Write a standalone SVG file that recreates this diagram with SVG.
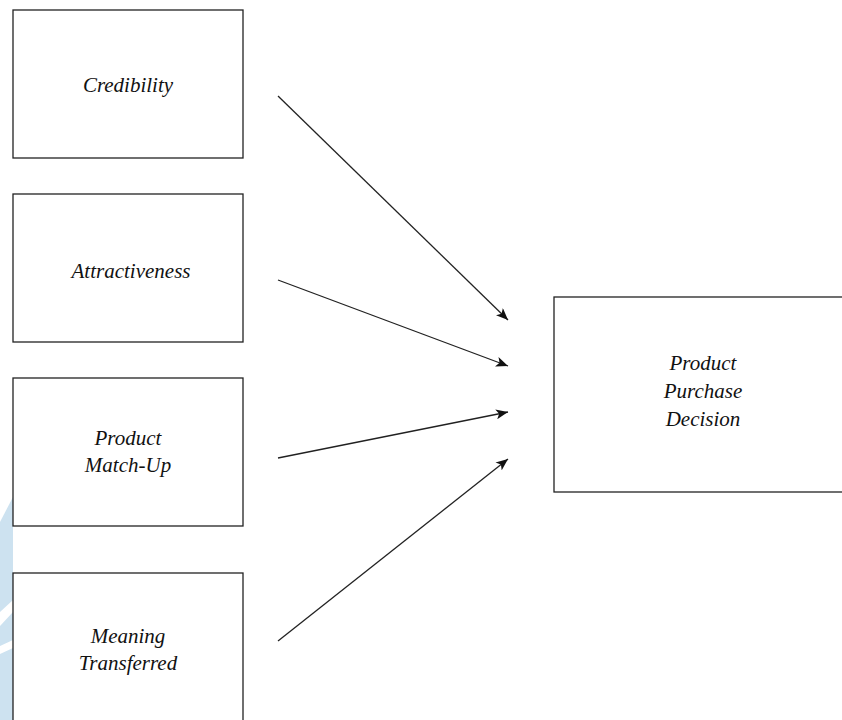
<svg xmlns="http://www.w3.org/2000/svg" width="842" height="720" viewBox="0 0 842 720">
<style>
.box{fill:#fff;stroke:#222;stroke-width:1.3}
.lbl{font-family:"Liberation Serif","Times New Roman",serif;font-style:italic;font-size:21px;fill:#111;text-anchor:middle}
.conn line{stroke:#222;stroke-width:1.3;marker-end:url(#arr)}
</style>
<defs>
<marker id="arr" viewBox="0 0 12 10" refX="12" refY="5" markerWidth="12" markerHeight="10" markerUnits="userSpaceOnUse" orient="auto">
<path d="M0,0 L12,5 L0,10 L3,5 Z" fill="#111"/>
</marker>
</defs>
<rect width="842" height="720" fill="#fff"/>
<g id="watermark">
<polygon points="0,522 13,497 13,720 0,720" fill="#cde2f0"/>
<polygon points="0,612 13,600 13,612 0,626" fill="#fff"/>
<polygon points="0,646 13,640 13,648 0,654" fill="#fff"/>
</g>
<g id="credibility"><rect class="box" x="13" y="10" width="230" height="148"/><text class="lbl" x="128" y="92">Credibility</text></g>
<g id="attractiveness"><rect class="box" x="13" y="194" width="230" height="148"/><text class="lbl" x="131" y="278">Attractiveness</text></g>
<g id="matchup"><rect class="box" x="13" y="378" width="230" height="148"/><text class="lbl" x="128" y="445">Product</text><text class="lbl" x="128" y="472">Match-Up</text></g>
<g id="meaning"><rect class="box" x="13" y="573" width="230" height="160"/><text class="lbl" x="128" y="643">Meaning</text><text class="lbl" x="128" y="670">Transferred</text></g>
<g id="decision"><rect class="box" x="554" y="297" width="300" height="195"/><text class="lbl" x="703" y="370">Product</text><text class="lbl" x="703" y="398">Purchase</text><text class="lbl" x="703" y="426">Decision</text></g>
<g class="conn" id="connectors">
<line x1="278" y1="96" x2="508" y2="320"/>
<line x1="278" y1="280" x2="508" y2="366"/>
<line x1="278" y1="458" x2="508" y2="412"/>
<line x1="278" y1="641" x2="508" y2="459"/>
</g>
</svg>
